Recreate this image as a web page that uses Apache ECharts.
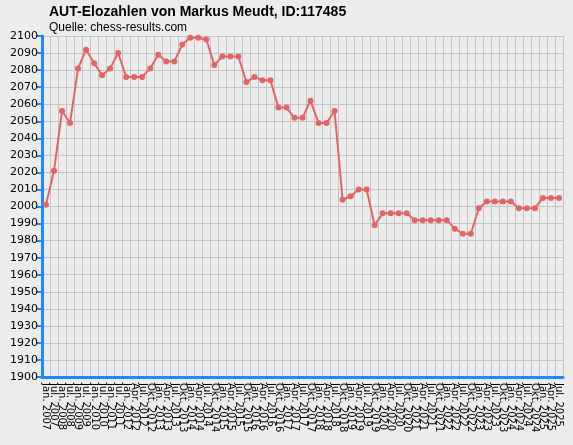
<!DOCTYPE html><html><head><meta charset="utf-8"><script src="https://cdn.jsdelivr.net/npm/echarts@6/dist/echarts.min.js"></script>
<style>html,body{margin:0;background:#ececec}#c{width:573px;height:445px}</style></head><body><div id="c"></div><script>
const categories=["Jan. 2007","Jul. 2007","Jan. 2008","Jul. 2008","Jan. 2009","Jul. 2009","Jan. 2010","Jul. 2010","Jan. 2011","Jul. 2011"];
const q=["Jan.","Apr.","Jul.","Okt."];
for(let y=2012;y<=2025;y++)for(const m of q){if(y===2025&&m==="Okt.")break;categories.push(m+" "+y);}
const elo=[2001,2021,2056,2049,2081,2092,2084,2077,2081,2090,2076,2076,2076,2081,2089,2085,2085,2095,2099,2099,2098,2083,2088,2088,2088,2073,2076,2074,2074,2058,2058,2052,2052,2062,2049,2049,2056,2004,2006,2010,2010,1989,1996,1996,1996,1996,1992,1992,1992,1992,1992,1987,1984,1984,1999,2003,2003,2003,2003,1999,1999,1999,2005,2005,2005];
const c=echarts.init(document.getElementById('c'));
const blue='#1e88ff';
c.setOption({backgroundColor:'#ececec',animation:false,
title:{text:'AUT-Elozahlen von Markus Meudt, ID:117485',subtext:'Quelle: chess-results.com',left:44,top:0,itemGap:3,
textStyle:{fontFamily:'Liberation Sans',fontSize:14,fontWeight:'bold',color:'#000'},subtextStyle:{fontFamily:'Liberation Sans',fontSize:12,color:'#000'}},
grid:{left:42,right:10,top:36,bottom:68},
xAxis:{type:'category',data:categories,boundaryGap:['1%','1%'],
axisLine:{lineStyle:{color:blue,width:3}},axisTick:{alignWithLabel:true,length:8,lineStyle:{color:blue,width:2}},
axisLabel:{rotate:-90,interval:0,fontFamily:'DejaVu Sans',fontSize:10,color:'#000',margin:6},
splitLine:{show:true,lineStyle:{color:'#c4c4c4'}}},
yAxis:{type:'value',min:1900,max:2100,interval:10,
axisLine:{show:true,lineStyle:{color:blue,width:3}},axisTick:{show:true,length:6,lineStyle:{color:blue,width:2}},
axisLabel:{formatter:v=>String(v),fontFamily:'DejaVu Sans',fontSize:11,color:'#000',margin:4},
splitLine:{lineStyle:{color:'#c4c4c4'}}},
series:[{type:'line',data:elo,symbol:'circle',symbolSize:6,itemStyle:{color:'#e06666'},lineStyle:{color:'#e06666',width:2}}]});
</script></body></html>
